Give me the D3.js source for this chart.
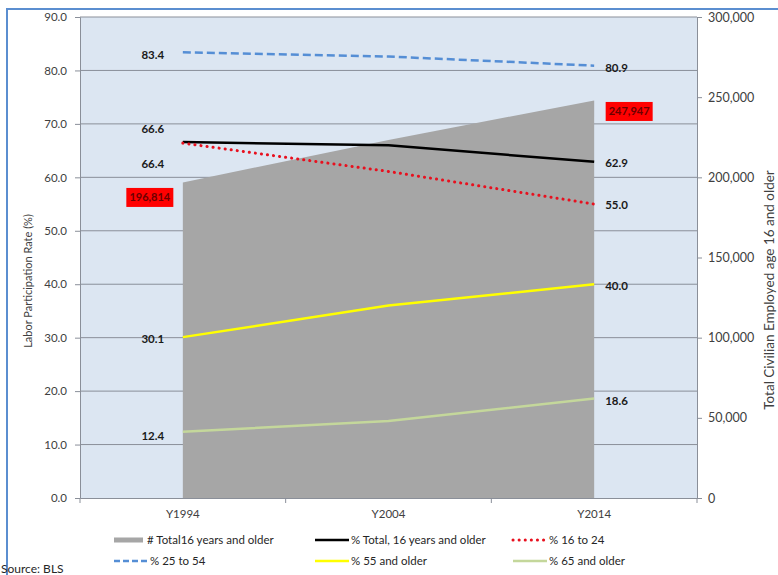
<!DOCTYPE html>
<html>
<head>
<meta charset="utf-8">
<script src="https://cdn.jsdelivr.net/npm/d3@7/dist/d3.min.js"></script>
<style>
  html, body { margin: 0; padding: 0; background: #fff; }
  svg { display: block; font-family: Lato, "Noto Sans", sans-serif; }
</style>
</head>
<body>
<svg id="chart" width="778" height="575"></svg>
<script>
// Labor force data, 1994 / 2004 / 2014
const years = ["Y1994", "Y2004", "Y2014"];
const totalPopulation = [196814, 223357, 247947];
const pctTotal16 = [66.6, 66.0, 62.9];
const pct16to24 = [66.4, 61.1, 55.0];
const pct25to54 = [83.4, 82.6, 80.9];
const pct55plus = [30.1, 36.0, 40.0];
const pct65plus = [12.4, 14.4, 18.6];
const rateTicks = [0, 10, 20, 30, 40, 50, 60, 70, 80, 90];
const countTicks = [0, 50000, 100000, 150000, 200000, 250000, 300000];

const svg = d3.select("#chart");
const W = 778, H = 575;
const plot = { left: 80, right: 697, top: 17, bottom: 498 };

// chart frame
svg.append("path")
  .attr("d", `M7,${H + 5} L7,9 L${W + 5},9`)
  .attr("fill", "none").attr("stroke", "#5b8ed0").attr("stroke-width", 2);

const x = d3.scaleBand().domain(years).range([plot.left, plot.right]).padding(0);
const cx = d => x(d) + x.bandwidth() / 2;
const y = d3.scaleLinear().domain([0, 90]).range([plot.bottom, plot.top]);
const y2 = d3.scaleLinear().domain([0, 300000]).range([plot.bottom, plot.top]);

// plot background
svg.append("rect")
  .attr("x", plot.left).attr("y", plot.top)
  .attr("width", plot.right - plot.left).attr("height", plot.bottom - plot.top)
  .attr("fill", "#dce6f2");

// gridlines
svg.append("g").selectAll("line").data(rateTicks.filter(t => t > 0)).join("line")
  .attr("x1", plot.left).attr("x2", plot.right)
  .attr("y1", d => y(d)).attr("y2", d => y(d))
  .attr("stroke", "#8a8f99").attr("stroke-width", 1);

// population area on the secondary axis
const area = d3.area()
  .x((d, i) => cx(years[i]))
  .y0(plot.bottom)
  .y1(d => y2(d));
svg.append("path").datum(totalPopulation)
  .attr("d", area).attr("fill", "#a6a6a6");

// left axis
const yAxis = d3.axisLeft(y).tickValues(rateTicks).tickFormat(d3.format(".1f")).tickSize(5).tickPadding(8);
const gy = svg.append("g").attr("transform", `translate(${plot.left},0)`).call(yAxis);
gy.select(".domain").attr("stroke", "#8a8f99");
gy.selectAll(".tick line").attr("stroke", "#8a8f99");
gy.selectAll(".tick text").attr("fill", "#404040").style("font-size", "11.5px").style("font-family", "Lato, sans-serif");

// right axis
const y2Axis = d3.axisRight(y2).tickValues(countTicks).tickFormat(d3.format(",")).tickSize(5).tickPadding(6);
const gy2 = svg.append("g").attr("transform", `translate(${plot.right},0)`).call(y2Axis);
gy2.select(".domain").attr("stroke", "#8a8f99");
gy2.selectAll(".tick line").attr("stroke", "#8a8f99");
gy2.selectAll(".tick text").attr("fill", "#404040").style("font-size", "12.5px").style("font-family", "Lato, sans-serif");

// category axis
const xAxis = d3.axisBottom(x).tickSize(0).tickPadding(12);
const gx = svg.append("g").attr("transform", `translate(0,${plot.bottom})`).call(xAxis);
gx.select(".domain").attr("stroke", "#8a8f99");
gx.selectAll(".tick text").attr("fill", "#404040").style("font-size", "11.5px").style("font-family", "Lato, sans-serif");
gx.selectAll(".boundary").data(d3.range(years.length + 1)).join("line")
  .attr("x1", i => plot.left + i * x.bandwidth()).attr("x2", i => plot.left + i * x.bandwidth())
  .attr("y1", 0).attr("y2", 5).attr("stroke", "#8a8f99");

// axis titles
svg.append("text")
  .attr("transform", `translate(28,281) rotate(-90)`)
  .attr("dy", "0.35em")
  .attr("text-anchor", "middle").attr("fill", "#404040").style("font-size", "11px")
  .text("Labor Participation Rate (%)");
svg.append("text")
  .attr("transform", `translate(769,290) rotate(-90)`)
  .attr("dy", "0.35em")
  .attr("text-anchor", "middle").attr("fill", "#404040").style("font-size", "13.5px")
  .text("Total Civilian Employed age 16 and older");

// percentage series
const series = [
  { name: "% Total, 16 years and older", values: pctTotal16, color: "#000000", width: 2.5, dash: null, cap: "butt", dyStart: -13, dyEnd: 1 },
  { name: "% 16 to 24", values: pct16to24, color: "#e8101e", width: 3, dash: "0.1 6", cap: "round", dyStart: 21, dyEnd: 1 },
  { name: "% 25 to 54", values: pct25to54, color: "#558ed5", width: 2.5, dash: "8 4", cap: "butt", dyStart: 3, dyEnd: 2 },
  { name: "% 55 and older", values: pct55plus, color: "#ffff00", width: 2.5, dash: null, cap: "butt", dyStart: 2, dyEnd: 2 },
  { name: "% 65 and older", values: pct65plus, color: "#c4d79b", width: 2.5, dash: null, cap: "butt", dyStart: 4, dyEnd: 2 }
];

const line = d3.line().x((d, i) => cx(years[i])).y(d => y(d));
const drawOrder = [series[4], series[3], series[2], series[0], series[1]];
drawOrder.forEach(s => {
  svg.append("path").datum(s.values)
    .attr("d", line).attr("fill", "none")
    .attr("stroke", s.color).attr("stroke-width", s.width)
    .attr("stroke-dasharray", s.dash).attr("stroke-linecap", s.cap);
});

// value labels at both ends of each line
const last = years.length - 1;
series.forEach(s => {
  svg.append("text")
    .attr("x", cx(years[0]) - 30).attr("y", y(s.values[0]) + s.dyStart)
    .attr("dy", "0.35em").attr("text-anchor", "middle")
    .attr("fill", "#1a1a1a").style("font-size", "11.5px").style("font-weight", "bold")
    .text(d3.format(".1f")(s.values[0]));
  svg.append("text")
    .attr("x", cx(years[last]) + 11).attr("y", y(s.values[last]) + s.dyEnd)
    .attr("dy", "0.35em").attr("text-anchor", "start")
    .attr("fill", "#1a1a1a").style("font-size", "11.5px").style("font-weight", "bold")
    .text(d3.format(".1f")(s.values[last]));
});

// population labels in red boxes
const popLabels = [
  { i: 0, dx: -33, dy: 15 },
  { i: last, dx: 35, dy: 11 }
];
popLabels.forEach(p => {
  const px = cx(years[p.i]) + p.dx, py = y2(totalPopulation[p.i]) + p.dy;
  svg.append("rect").attr("x", px - 23.5).attr("y", py - 9.5).attr("width", 47).attr("height", 19).attr("fill", "#ff0000");
  svg.append("text").attr("x", px).attr("y", py).attr("dy", "0.35em").attr("text-anchor", "middle")
    .attr("fill", "#6b0000").style("font-size", "11px").style("font-weight", "bold")
    .text(d3.format(",")(totalPopulation[p.i]));
});

// legend
const legendItems = [
  { name: "# Total16 years and older", type: "area", color: "#a6a6a6" },
  series[0], series[1], series[2], series[3], series[4]
];
const legendCols = [114, 315, 513];
const legendRows = [540, 561];
legendItems.forEach((item, k) => {
  const lx = legendCols[k % 3], ly = legendRows[Math.floor(k / 3)];
  const g = svg.append("g").attr("transform", `translate(${lx},${ly})`);
  if (item.type === "area") {
    g.append("rect").attr("x", 0).attr("y", -2.5).attr("width", 29).attr("height", 5).attr("fill", item.color);
  } else {
    g.append("line").attr("x1", 0).attr("x2", 34).attr("y1", 0).attr("y2", 0)
      .attr("stroke", item.color).attr("stroke-width", item.width)
      .attr("stroke-dasharray", item.dash === "8 4" ? "6 3" : item.dash).attr("stroke-linecap", item.cap);
  }
  g.append("text").attr("x", item.type === "area" ? 33 : 36).attr("y", 0).attr("dy", "0.35em")
    .attr("fill", "#262626").style("font-size", "11.5px").text(item.name);
});

// source note
svg.append("text").attr("x", 1).attr("y", 573).attr("fill", "#262626").style("font-size", "12px").text("Source: BLS");
</script>
</body>
</html>
